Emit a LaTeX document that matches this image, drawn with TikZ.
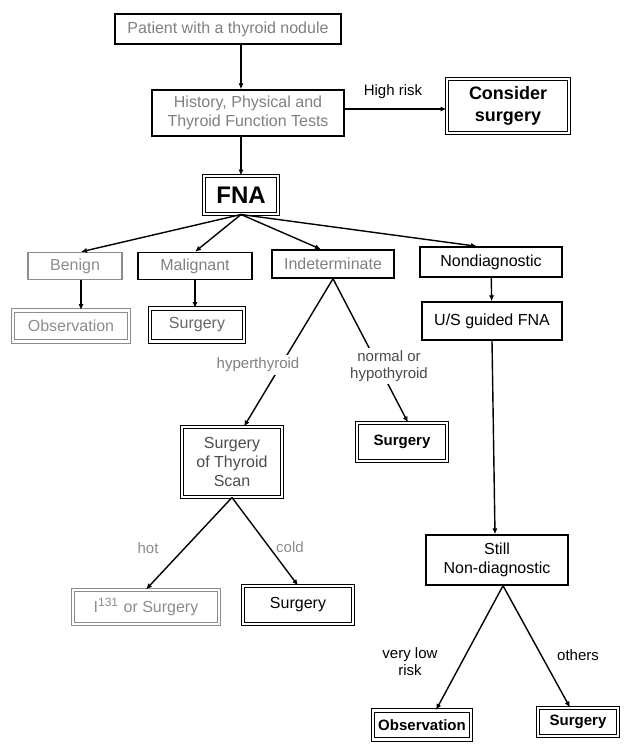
\documentclass[tikz,border=0pt]{standalone}
\usepackage{fontspec}
\setmainfont{Liberation Sans}
\usetikzlibrary{arrows.meta}
\tikzset{
Cadre/.style={
 draw=black, 
 line width=0.7pt, 
 align=center, 
 inner sep=1pt, 
 font=\fontsize{8}{9.5}\selectfont
 },
DCadre/.style={
 Cadre, 
 line width=0.5pt, 
 double, 
 double distance=1.3pt
 },
Gras/.style={font=\fontsize{7.5}{9}\selectfont\bfseries},
Pale/.style={draw=black!45, text=black!45},
Fleche/.style={
 draw=black, 
 line width=0.7pt, 
 -{Latex[length=3pt,width=2.6pt]}
 },
Etiq/.style={
 align=center, 
 fill=white, 
 inner sep=1.5pt, 
 font=\fontsize{7.5}{8.5}\selectfont
 }
}
\begin{document}
\begin{tikzpicture}[x=0.5pt,y=-0.5pt]
\useasboundingbox (0,0) rectangle (626,744);
% boxes
\node[Cadre,text=black!50,minimum width=113pt,minimum height=15pt] (pat) at (228,29) {Patient with a thyroid nodule};
\node[Cadre,text=black!50,minimum width=96pt,minimum height=23pt] (hist) at (248,113) {History, Physical and\\Thyroid Function Tests};
\node[DCadre,font=\fontsize{9}{11}\selectfont\bfseries,minimum width=61pt,minimum height=27pt] (cons) at (508,106) {Consider\\surgery};
\node[DCadre,font=\fontsize{12}{14}\selectfont\bfseries,minimum width=37pt,minimum height=19pt] (fna) at (241,195) {FNA};
\node[Cadre,Pale,minimum width=47pt,minimum height=13.5pt] (ben) at (75,266) {Benign};
\node[Cadre,text=black!50,minimum width=57pt,minimum height=13.5pt] (mal) at (195,266) {Malignant};
\node[Cadre,text=black!50,minimum width=61pt,minimum height=14pt] (ind) at (333,264) {Indeterminate};
\node[Cadre,minimum width=71pt,minimum height=15pt] (nd) at (491,262) {Nondiagnostic};
\node[DCadre,Pale,minimum width=58pt,minimum height=15.5pt] (obsA) at (71,326) {Observation};
\node[DCadre,text=black!60,minimum width=47pt,minimum height=16.5pt] (surA) at (197,325) {Surgery};
\node[Cadre,minimum width=70pt,minimum height=19pt] (us) at (492,321) {U/S guided FNA};
\node[DCadre,text=black!70,minimum width=50pt,minimum height=35pt] (sts) at (232,462) {Surgery\\of Thyroid\\Scan};
\node[DCadre,Gras,minimum width=45pt,minimum height=19pt] (surN) at (402,442) {Surgery};
\node[Cadre,minimum width=71pt,minimum height=25pt] (still) at (497,560) {Still\\Non-diagnostic};
\node[DCadre,Pale,minimum width=73pt,minimum height=17pt] (iod) at (146,607) {I\textsuperscript{131} or Surgery};
\node[DCadre,minimum width=55pt,minimum height=19pt] (surC) at (298,605) {Surgery};
\node[DCadre,Gras,minimum width=49pt,minimum height=14.5pt] (obsB) at (422,725) {Observation};
\node[DCadre,Gras,minimum width=40pt,minimum height=14pt] (surB) at (578,722) {Surgery};
% connectors
\draw[Fleche] (pat.south -| fna.north) -- (hist.north -| fna.north);
\draw[Fleche] ([yshift=2pt]hist.east) -- ([yshift=2pt]hist.east -| cons.west);
\draw[Fleche] (hist.south -| fna.north) -- (fna);
\draw[Fleche] (fna.south) -- ([xshift=3pt]ben.north);
\draw[Fleche] (fna.south) -- (mal.north);
\draw[Fleche] (fna.south) -- ([xshift=-6pt]ind.north);
\draw[Fleche] (fna.south) -- ([xshift=-7pt]nd.north);
\draw[Fleche] ([xshift=3pt]ben.south) -- ([xshift=3pt]ben.south |- obsA.north);
\draw[Fleche] (mal.south) -- (mal.south |- surA.north);
\draw[Fleche] (nd) -- (us);
\draw[Fleche] (ind.south) -- ([xshift=6pt]sts.north);
\draw[Fleche] (ind.south) -- ([xshift=3pt]surN.north);
\draw[Fleche] (us.south) -- ([xshift=-1pt]still.north);
\draw[Fleche] (sts.south) -- (iod.north);
\draw[Fleche] (sts.south) -- (surC.north);
\draw[Fleche] ([xshift=3pt]still.south) -- ([xshift=7pt]obsB.north);
\draw[Fleche] ([xshift=3pt]still.south) -- ([xshift=-4pt]surB.north);
% labels
\node[Etiq] (hr) at (393,92) {High risk};
\node[Etiq,text=black!50] (hyp) at (258,365) {hyperthyroid};
\node[Etiq,text=black!70] (norm) at (389,366) {normal or\\hypothyroid};
\node[Etiq,text=black!45,fill=none] (hot) at (148,548) {hot};
\node[Etiq,text=black!45,fill=none] (cold) at (290,547) {cold};
\node[Etiq,fill=none] (vlr) at (410,662) {very low\\risk};
\node[Etiq,fill=none] (oth) at (578,655) {others};
\end{tikzpicture}
\end{document}
